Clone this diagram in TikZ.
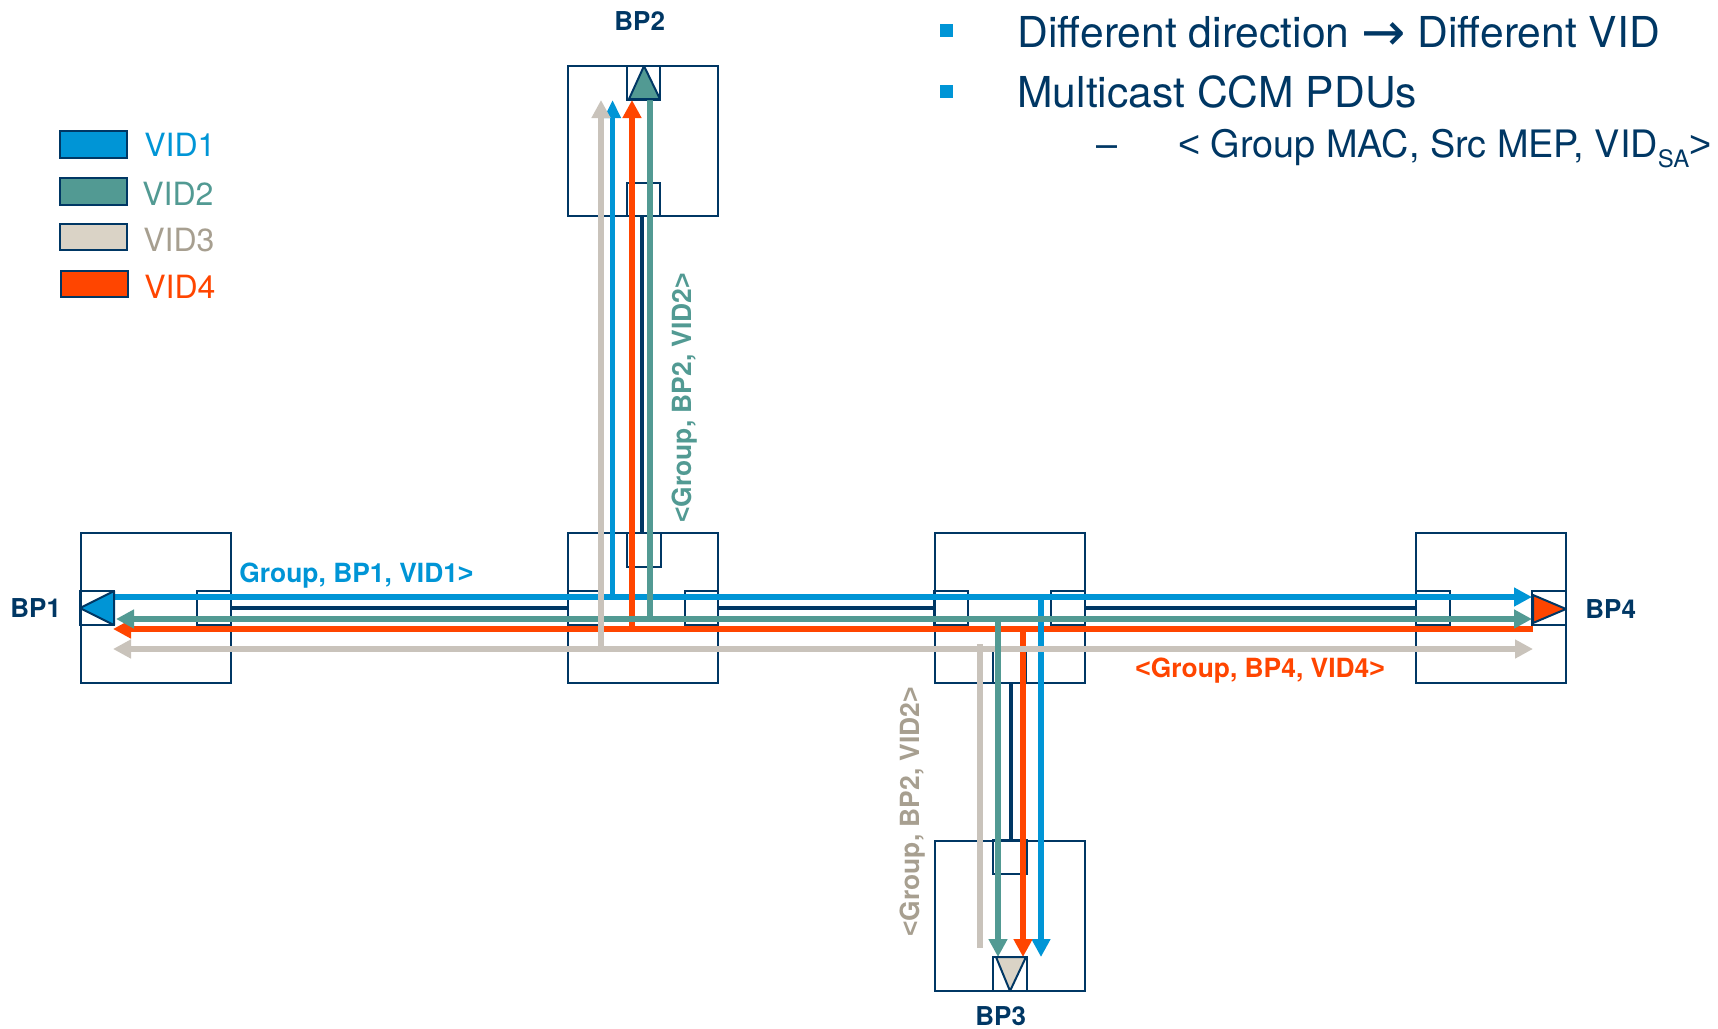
\documentclass[tikz,border=0pt]{standalone}
\usepackage{fontspec}
\setmainfont{TeX Gyre Heros}
\newfontfamily\arrowfont{DejaVu Sans}
\newfontfamily\anglefont{Liberation Sans}
\newcommand{\LT}{{\anglefont <}}
\newcommand{\GT}{{\anglefont >}}
\usetikzlibrary{arrows.meta}
\definecolor{navy}{HTML}{003764}
\definecolor{vblue}{HTML}{0095D6}
\definecolor{vgreen}{HTML}{529A93}
\definecolor{vgrayline}{HTML}{C9C3BB}
\definecolor{vgraytext}{HTML}{A79F90}
\definecolor{vgrayfill}{HTML}{DAD3C6}
\definecolor{vorange}{HTML}{FF4500}
\tikzset{
  x=0.5pt,y=-0.5pt,
  bridge/.style={draw=navy,line width=1pt,minimum width=75pt,minimum height=75pt,inner sep=0pt,outer sep=0pt},
  porth/.style={draw=navy,line width=1pt,minimum width=16.75pt,minimum height=16.75pt,inner sep=0pt,outer sep=0pt},
  link/.style={draw=navy,line width=1.7pt},
  tri/.style={draw=navy,line width=1pt,line join=round},
  flow/.style={line width=2.9pt,line cap=butt},
  swatch/.style={draw=navy,line width=1pt,minimum width=33.5pt,minimum height=13.2pt,inner sep=0pt,outer sep=0pt},
  legend/.style={anchor=base west,inner sep=0pt,font=\fontsize{16}{19}\selectfont},
  bp/.style={anchor=base west,inner sep=0pt,text=navy,font=\bfseries\fontsize{13}{15}\selectfont},
  flowlabel/.style={anchor=base west,inner sep=0pt,font=\bfseries\fontsize{13.2}{16}\selectfont},
  bigtext/.style={anchor=base west,inner sep=0pt,text=navy,font=\fontsize{21.3}{25}\selectfont},
  subtext/.style={anchor=base west,inner sep=0pt,text=navy,font=\fontsize{18.9}{22}\selectfont},
  bullet/.style={fill=vblue,minimum width=6.5pt,minimum height=6.5pt,inner sep=0pt,outer sep=0pt},
}
\begin{document}
\begin{tikzpicture}
\useasboundingbox (0,0) rectangle (1718,1028);
% bridges
\node[bridge] (b1) at (155.5,607.5) {};
\node[bridge] (b2) at (643,141) {};
\node[bridge] (bm) at (643,608) {};
\node[bridge] (bn) at (1009.5,608) {};
\node[bridge] (b3) at (1009.5,915.5) {};
\node[bridge] (b4) at (1491,608) {};
% ports
\node[porth] (p1l) at (97,608) {};
\node[porth] (p1r) at (214,608) {};
\node[porth] (p2t) at (643.5,83) {};
\node[porth] (p2b) at (643.5,199.5) {};
\node[porth] (pml) at (584.5,608) {};
\node[porth] (pmr) at (701.5,608) {};
\node[porth] (pmt) at (644,550) {};
\node[porth] (pnl) at (951,608) {};
\node[porth] (pnr) at (1068,608) {};
\node[porth] (pnb) at (1009.5,666) {};
\node[porth] (p3t) at (1010,857) {};
\node[porth] (p3b) at (1010,974) {};
\node[porth] (p4l) at (1433,608) {};
\node[porth] (p4r) at (1549,608) {};
% links
\draw[link] (p1r.east) -- (pml.west);
\draw[link] (pmr.east) -- (pnl.west);
\draw[link] (pnr.east) -- (p4l.west);
\draw[link] ([xshift=-0.7pt]p2b.south) -- ([xshift=-0.95pt]pmt.north);
\draw[link] ([xshift=0.75pt]pnb.south) -- ([xshift=0.5pt]p3t.north);
% flow end points
\coordinate (oL) at (113,629); \coordinate (oR) at (1533,629);
\coordinate (oJ2) at (632,629); \coordinate (oT) at (632,100);
\coordinate (oJ3) at (1023,629); \coordinate (oB) at (1023,957);
\coordinate (gL) at (116,619); \coordinate (gR) at (1532,619);
\coordinate (gJ2) at (650,619); \coordinate (gT) at (650,99);
\coordinate (gJ3) at (998,619); \coordinate (gB) at (998,957);
\coordinate (bL) at (114,597); \coordinate (bR) at (1532,597);
\coordinate (bJ2) at (612.5,597); \coordinate (bT) at (612.5,100);
\coordinate (bJ3) at (1041,597); \coordinate (bB) at (1041,957);
\coordinate (yL) at (113,649); \coordinate (yR) at (1533,649);
\coordinate (yJ2) at (601,649); \coordinate (yT) at (601,100);
\coordinate (yJ3) at (980,644); \coordinate (yB) at (980,948);
% horizontal orange, then blue
\draw[flow,vorange,{Triangle[length=9pt,width=9pt]}-] (oL) -- (oR);
\draw[flow,vblue,-{Triangle[length=9pt,width=9pt]}] (bL) -- (bR);
\draw[flow,vblue,-{Triangle[length=9pt,width=8pt]}] (bJ2) -- (bT);
\draw[flow,vblue,-{Triangle[length=9pt,width=9pt]}] (bJ3) -- (bB);
\draw[flow,vorange,-{Triangle[length=9pt,width=9pt]}] (oJ2) -- (oT);
\draw[flow,vorange,-{Triangle[length=9pt,width=9pt]}] (oJ3) -- (oB);
% green and grey
\draw[flow,vgreen,{Triangle[length=9pt,width=9pt]}-{Triangle[length=9pt,width=9pt]}] (gL) -- (gR);
\draw[flow,vgrayline,{Triangle[length=9pt,width=9pt]}-{Triangle[length=9pt,width=9pt]}] (yL) -- (yR);
\draw[flow,vgreen] (gJ2) -- (gT);
\draw[flow,vgreen,-{Triangle[length=9pt,width=9pt]}] (gJ3) -- (gB);
\draw[flow,vgrayline,-{Triangle[length=9pt,width=9pt]}] (yJ2) -- (yT);
\draw[flow,vgrayline] (yJ3) -- (yB);
% triangles
\draw[tri,fill=vblue] (80,608) -- (114,591) -- (114,625) -- cycle;
\draw[tri,fill=vgreen] (644,66) -- (660,99) -- (629,99) -- cycle;
\draw[tri,fill=vgrayfill] (996,957) -- (1026,957) -- (1010,991) -- cycle;
\draw[tri,fill=vorange] (1533,595) -- (1566,609) -- (1533,623) -- cycle;
% labels
\node[bp] (lb1) at (10,617) {BP1};
\node[bp] (lb2) at (614,30) {BP2};
\node[bp] (lb3) at (975,1025) {BP3};
\node[bp] (lb4) at (1585,618) {BP4};
\node[flowlabel,text=vblue] (f1) at (239,582) {Group, BP1, VID1\GT};
\node[flowlabel,text=vorange] (f4) at (1135,677) {\LT Group, BP4, VID4\GT};
\node[flowlabel,text=vgreen,rotate=90] (f2) at (691,523) {\LT Group, BP2, VID2\GT};
\node[flowlabel,text=vgraytext,rotate=90] (f3) at (919,937) {\LT Group, BP2, VID2\GT};
% legend
\node[swatch,fill=vblue] (s1) at (93.5,144.5) {};
\node[swatch,fill=vgreen] (s2) at (93.5,191.5) {};
\node[swatch,fill=vgrayfill] (s3) at (93.5,237) {};
\node[swatch,fill=vorange] (s4) at (94.5,284) {};
\node[legend,text=vblue] (t1) at (144,156) {VID1};
\node[legend,text=vgreen] (t2) at (142,205) {VID2};
\node[legend,text=vgraytext] (t3) at (143,251) {VID3};
\node[legend,text=vorange] (t4) at (144,298) {VID4};
% text block
\node[bullet] (k1) at (946.5,30.5) {};
\node[bullet] (k2) at (946.5,91.5) {};
\node[bigtext] (l1) at (1017,47) {Different direction {\arrowfont\fontsize{26.5}{25}\selectfont\raisebox{-1.9pt}{→}} Different VID};
\node[bigtext] (l2) at (1017,107) {Multicast CCM PDUs};
\node[subtext] (l3d) at (1096,157) {–};
\node[subtext] (l3) at (1178,157) {\LT\ Group MAC, Src MEP, VID\raisebox{-5pt}{\fontsize{12}{14}\selectfont SA}\GT};
\end{tikzpicture}
\end{document}
